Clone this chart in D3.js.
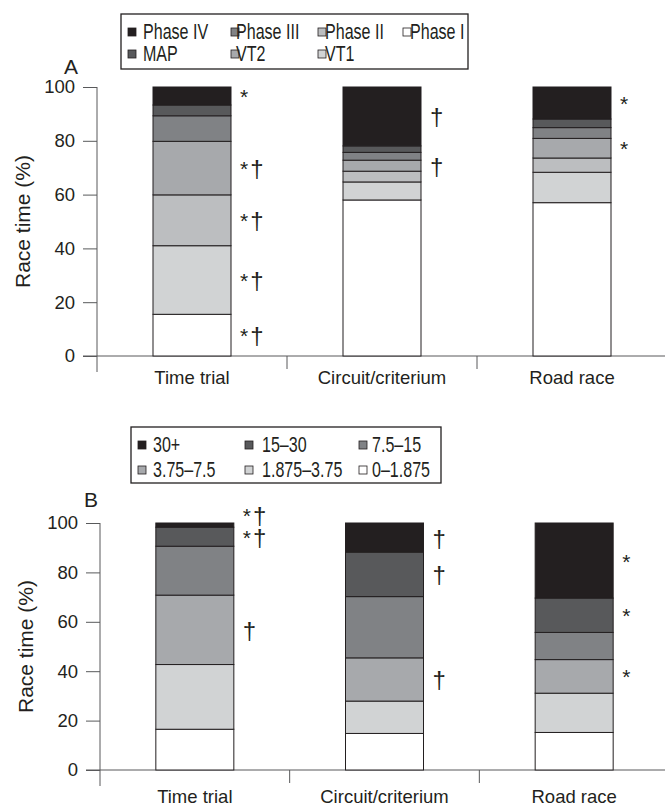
<!DOCTYPE html>
<html>
<head>
<meta charset="utf-8">
<script src="https://cdn.jsdelivr.net/npm/d3@7"></script>
<style>
  body { margin: 0; background: #fff; }
  svg text { font-family: "Liberation Sans", Arial, sans-serif; fill: #231f20; }
</style>
</head>
<body>
<div id="chart"></div>
<script>
// categories
var categories = ["Time trial", "Circuit/criterium", "Road race"];

// panel A - intensity zones, bottom to top
var zonesA = ["Phase I", "VT1", "Phase II", "VT2", "Phase III", "MAP", "Phase IV"];
var phaseI   = [15.5, 58.0, 57.0];
var vt1      = [25.5,  6.7, 11.3];
var phaseII  = [18.9,  4.0,  5.3];
var vt2      = [19.9,  4.1,  7.3];
var phaseIII = [ 9.5,  2.9,  4.0];
var map      = [ 4.0,  2.4,  3.2];
var phaseIV  = [ 6.7, 21.9, 11.9];
var seriesA = [phaseI, vt1, phaseII, vt2, phaseIII, map, phaseIV];
var coloursA = ["#ffffff", "#d1d3d4", "#bcbec0", "#a7a9ac", "#808285", "#58595b", "#231f20"];
var legendRowsA = [["Phase IV", "Phase III", "Phase II", "Phase I"], ["MAP", "VT2", "VT1"]];
var marksA = [
  ["Time trial", "Phase IV", "*"], ["Time trial", "VT2", "*†"], ["Time trial", "Phase II", "*†"],
  ["Time trial", "VT1", "*†"], ["Time trial", "Phase I", "*†"],
  ["Circuit/criterium", "Phase IV", "†"], ["Circuit/criterium", "VT2", "†"],
  ["Road race", "Phase IV", "*"], ["Road race", "VT2", "*"]
];

// panel B - power bands, bottom to top
var zonesB = ["0–1.875", "1.875–3.75", "3.75–7.5", "7.5–15", "15–30", "30+"];
var band0  = [16.5, 14.8, 15.2];
var band1  = [26.2, 13.1, 15.9];
var band2  = [28.1, 17.5, 13.6];
var band3  = [19.8, 24.8, 11.0];
var band4  = [ 7.7, 18.0, 13.9];
var band5  = [ 1.7, 11.8, 30.4];
var seriesB = [band0, band1, band2, band3, band4, band5];
var coloursB = ["#ffffff", "#d1d3d4", "#a7a9ac", "#808285", "#58595b", "#231f20"];
var legendRowsB = [["30+", "15–30", "7.5–15"], ["3.75–7.5", "1.875–3.75", "0–1.875"]];
var marksB = [
  ["Time trial", "30+", "*†"], ["Time trial", "15–30", "*†"], ["Time trial", "3.75–7.5", "†"],
  ["Circuit/criterium", "30+", "†"], ["Circuit/criterium", "15–30", "†"], ["Circuit/criterium", "3.75–7.5", "†"],
  ["Road race", "30+", "*"], ["Road race", "15–30", "*"], ["Road race", "3.75–7.5", "*"]
];

var yTicks = [0, 20, 40, 60, 80, 100];

var width = 665, height = 808;
var svg = d3.select("#chart").append("svg")
    .attr("width", width)
    .attr("height", height);

var axisColour = "#58595b";

function drawPanel(p) {
    var g = svg.append("g");

    // build rows for the stack
    var rows = categories.map(function(c, i) {
        var r = {category: c};
        p.zones.forEach(function(z, j) { r[z] = p.series[j][i]; });
        return r;
    });
    var stacked = d3.stack().keys(p.zones)(rows);

    var x = d3.scaleBand().domain(categories).range([p.x0, p.x1]);
    var y = d3.scaleLinear().domain([0, 100]).range([p.yBottom, p.yTop]);
    var colour = d3.scaleOrdinal().domain(p.zones).range(p.colours);
    var barW = 78;

    // y axis
    var yAxis = d3.axisLeft(y).tickValues(yTicks).tickSize(14).tickPadding(8);
    var ya = g.append("g")
        .attr("transform", "translate(" + p.x0 + ",0)")
        .call(yAxis);
    ya.select(".domain").remove();
    ya.selectAll(".tick line").attr("stroke", axisColour);
    ya.selectAll(".tick text")
        .style("font-size", "18.5px")
        .style("font-family", "'Liberation Sans', Arial, sans-serif")
        .attr("fill", "#231f20");

    g.append("line")
        .attr("x1", p.x0).attr("x2", p.x0)
        .attr("y1", y(100)).attr("y2", y(0) + 16)
        .attr("stroke", axisColour);
    g.append("line")
        .attr("x1", p.x0 - 14).attr("x2", width)
        .attr("y1", y(0)).attr("y2", y(0))
        .attr("stroke", axisColour);
    // separators between categories
    g.selectAll(".sep")
        .data(categories.slice(1))
        .enter().append("line")
        .attr("x1", function(d) { return x(d); })
        .attr("x2", function(d) { return x(d); })
        .attr("y1", y(0)).attr("y2", y(0) + 13)
        .attr("stroke", axisColour);

    // bars
    g.selectAll(".layer")
        .data(stacked)
        .enter().append("g")
        .attr("fill", function(d) { return colour(d.key); })
        .selectAll("rect")
        .data(function(d) { return d; })
        .enter().append("rect")
        .attr("x", function(d) { return x(d.data.category) + (x.bandwidth() - barW) / 2; })
        .attr("y", function(d) { return y(d[1]); })
        .attr("width", barW)
        .attr("height", function(d) { return y(d[0]) - y(d[1]); })
        .attr("stroke", "#231f20")
        .attr("stroke-width", 1);

    // category labels
    g.selectAll(".cat")
        .data(categories)
        .enter().append("text")
        .attr("x", function(d) { return x(d) + x.bandwidth() / 2; })
        .attr("y", y(0) + p.catOffset)
        .attr("text-anchor", "middle")
        .style("font-size", "18.5px")
        .text(function(d) { return d; });

    // y title
    g.append("text")
        .attr("transform", "translate(" + p.titleX + "," + ((y(0) + y(100)) / 2) + ") rotate(-90)")
        .attr("text-anchor", "middle")
        .attr("dominant-baseline", "central")
        .style("font-size", "21px")
        .text("Race time (%)");

    // panel letter
    g.append("text")
        .attr("x", p.letterX).attr("y", p.letterY)
        .attr("text-anchor", "middle")
        .style("font-size", "21px")
        .text(p.letter);

    // significance marks, placed at the segment middle, pushed up if crowded
    categories.forEach(function(c) {
        var ci = categories.indexOf(c);
        var list = p.marks.filter(function(m) { return m[0] === c; })
            .map(function(m) {
                var layer = stacked[p.zones.indexOf(m[1])][ci];
                return {text: m[2], y: y((layer[0] + layer[1]) / 2)};
            })
            .sort(function(a, b) { return b.y - a.y; });
        for (var i = 1; i < list.length; i++) {
            if (list[i].y > list[i - 1].y - 21) list[i].y = list[i - 1].y - 22;
        }
        var t = g.selectAll(null)
            .data(list)
            .enter().append("text")
            .attr("x", x(c) + (x.bandwidth() + barW) / 2 + 9)
            .attr("y", function(d) { return d.y; })
            .attr("dominant-baseline", "central");
        t.selectAll("tspan")
            .data(function(d) { return d.text.split(""); })
            .enter().append("tspan")
            .style("font-size", function(s) { return s === "†" ? "24px" : "21px"; })
            .attr("dx", function(s, i) { return i > 0 ? 2 : 0; })
            .text(function(s) { return s; });
    });

    // legend (condensed type, as in the original)
    var lg = svg.append("g").attr("class", "legend");
    lg.append("rect")
        .attr("x", p.legend.x).attr("y", p.legend.y)
        .attr("width", p.legend.w).attr("height", p.legend.h)
        .attr("fill", "none")
        .attr("stroke", "#231f20")
        .attr("stroke-width", 1.3);
    p.legendRows.forEach(function(row, ri) {
        row.forEach(function(name, ci) {
            var cy = p.legend.rowY[ri];
            lg.append("rect")
                .attr("x", p.legend.swatchX[ci]).attr("y", cy - 4)
                .attr("width", 8).attr("height", 8)
                .attr("fill", colour(name))
                .attr("stroke", "#231f20")
                .attr("stroke-width", 0.8);
            lg.append("text")
                .attr("transform", "translate(" + p.legend.textX[ci] + "," + cy + ") scale(0.73,1)")
                .attr("dominant-baseline", "central")
                .style("font-size", "22px")
                .text(name);
        });
    });
}

drawPanel({
    letter: "A", letterX: 71, letterY: 74,
    zones: zonesA, series: seriesA, colours: coloursA, marks: marksA,
    legendRows: legendRowsA,
    x0: 97, x1: 667, yTop: 87, yBottom: 356, catOffset: 28, titleX: 22,
    legend: {x: 121, y: 14, w: 347, h: 55, rowY: [32, 54],
             swatchX: [128, 231, 318, 403], textX: [143, 236, 325, 410]}
});

drawPanel({
    letter: "B", letterX: 91, letterY: 507,
    zones: zonesB, series: seriesB, colours: coloursB, marks: marksB,
    legendRows: legendRowsB,
    x0: 100, x1: 669, yTop: 523, yBottom: 770, catOffset: 33, titleX: 25,
    legend: {x: 131, y: 427, w: 310, h: 56, rowY: [445, 470],
             swatchX: [138, 245, 359], textX: [153, 262, 372]}
});
</script>
</body>
</html>
